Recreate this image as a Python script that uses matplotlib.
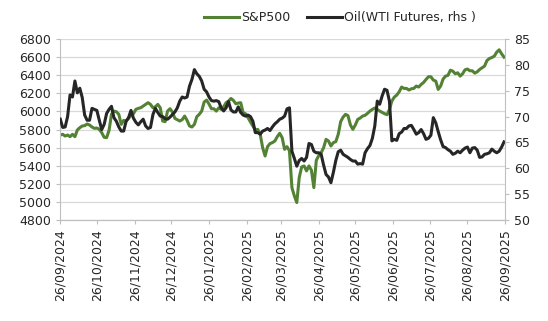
from matplotlib import pyplot as plt
import matplotlib.dates as mdates
import pandas as pd

dates = pd.date_range("2024-09-26", "2025-09-25", freq="2D")

spx = [
    # 26/09/2024 - 07/12/2024
    5739, 5747, 5728, 5739, 5721, 5747, 5721, 5795, 5820, 5839,
    5843, 5861, 5850, 5828, 5813, 5817, 5802, 5765, 5714, 5710,
    5791, 5968, 6004, 5997, 5968, 5857, 5901, 5894, 5923, 5960,
    5975, 6023, 6034, 6041, 6060, 6078, 6097,
    # 09/12/2024 - 20/02/2025
    6078, 6041, 6052, 6078, 6041, 5894, 5887, 6004, 6030, 5993,
    5923, 5909, 5894, 5909, 5949, 5901, 5839, 5828, 5857, 5942,
    5968, 6004, 6104, 6126, 6082, 6030, 6030, 6004, 6041, 6023,
    6052, 6097, 6115, 6144, 6122, 6085, 6093,
    # 22/02/2025 - 04/05/2025
    6097, 5986, 5975, 5931, 5883, 5839, 5795, 5802, 5747, 5599,
    5507, 5610, 5644, 5655, 5673, 5721, 5758, 5710, 5581, 5610,
    5563, 5157, 5065, 4992, 5268, 5386, 5397, 5342, 5397, 5349,
    5157, 5459, 5511, 5544, 5599, 5691, 5673,
    # 06/05/2025 - 17/07/2025
    5618, 5655, 5666, 5747, 5887, 5938, 5968, 5953, 5850, 5802,
    5850, 5912, 5927, 5949, 5957, 5979, 6004, 6023, 6038, 6023,
    6004, 5990, 5975, 5964, 6023, 6115, 6159, 6181, 6218, 6270,
    6255, 6255, 6237, 6251, 6255, 6281, 6270,
    # 19/07/2025 - 25/09/2025
    6299, 6321, 6354, 6384, 6384, 6347, 6336, 6244, 6281, 6358,
    6391, 6399, 6457, 6446, 6417, 6428, 6391, 6417, 6461, 6469,
    6450, 6450, 6424, 6439, 6465, 6483, 6502, 6564, 6586, 6597,
    6612, 6656, 6682, 6638, 6601,
]

oil = [
    # 26/09/2024 - 07/12/2024
    69.5, 67.9, 68.0, 70.0, 74.2, 73.8, 76.9, 74.6, 75.5, 73.7,
    70.3, 69.3, 69.3, 71.6, 71.4, 71.2, 69.3, 67.5, 68.5, 70.6,
    71.4, 72.0, 69.8, 69.1, 68.0, 67.2, 67.2, 69.1, 69.8, 71.2,
    69.7, 68.9, 68.4, 69.0, 69.5, 68.2, 67.7,
    # 09/12/2024 - 20/02/2025
    67.9, 70.4, 71.6, 70.8, 70.1, 70.0, 69.6, 69.5, 69.9, 70.4,
    70.9, 71.7, 73.0, 73.8, 73.6, 73.8, 75.9, 77.2, 79.1, 78.3,
    77.8, 76.9, 75.3, 74.8, 73.8, 73.1, 73.0, 73.1, 72.9, 71.7,
    71.1, 71.7, 72.9, 71.3, 70.9, 70.9, 71.9,
    # 22/02/2025 - 04/05/2025
    70.8, 70.3, 70.1, 70.3, 70.0, 69.1, 66.9, 66.9, 66.6, 67.2,
    67.4, 67.7, 67.3, 68.0, 68.6, 69.0, 69.5, 69.7, 70.1, 71.5,
    71.7, 63.3, 61.9, 60.4, 61.5, 61.9, 61.4, 62.1, 64.8, 64.6,
    63.3, 63.0, 63.0, 62.7, 60.6, 58.8, 58.3,
    # 06/05/2025 - 17/07/2025
    57.2, 59.2, 61.5, 63.2, 63.5, 62.7, 62.4, 62.1, 61.7, 61.4,
    61.4, 60.8, 60.9, 60.8, 63.0, 63.8, 64.4, 65.8, 68.2, 73.0,
    72.4, 74.0, 75.3, 75.1, 73.0, 65.3, 65.6, 65.4, 66.7, 67.0,
    67.7, 67.7, 68.2, 68.3, 67.5, 66.6, 66.9,
    # 19/07/2025 - 25/09/2025
    67.5, 66.7, 65.6, 65.8, 66.4, 69.8, 68.8, 67.1, 65.5, 64.2,
    64.0, 63.6, 63.3, 62.7, 62.9, 63.3, 63.0, 63.5, 63.9, 64.1,
    63.0, 63.9, 64.0, 63.5, 62.1, 62.2, 62.7, 62.8, 63.0, 63.7,
    63.3, 63.0, 63.3, 64.1, 65.1,
]

# month ticks on the 26th
tick_dates = pd.date_range("2024-09-01", "2025-09-01", freq="MS") + pd.Timedelta(days=25)

green = '#548235'
dark = '#262626'
grey = '#bfbfbf'

fig = plt.figure(figsize=(5.48, 3.21), dpi=100)
ax = fig.add_axes([0.110, 0.315, 0.812, 0.563])
ax2 = ax.twinx()

l1, = ax.plot(dates, spx, color=green, lw=2.2, label='S&P500')
l2, = ax2.plot(dates, oil, color=dark, lw=2.2, label='Oil(WTI Futures, rhs )')

ax.set_ylim(4800, 6800)
ax.set_yticks(range(4800, 6801, 200))
ax2.set_ylim(50, 85)
ax2.set_yticks(range(50, 86, 5))
ax.set_xlim(pd.Timestamp("2024-09-26"), pd.Timestamp("2025-09-26"))
ax.set_xticks(tick_dates)
ax.xaxis.set_major_formatter(mdates.DateFormatter('%d/%m/%Y'))
plt.setp(ax.get_xticklabels(), rotation=90)

ax.grid(axis='y', color='#d9d9d9', lw=0.9)
ax.set_axisbelow(True)
for a in (ax, ax2):
    for s in a.spines.values():
        s.set_color(grey)
    a.spines['top'].set_visible(False)
    a.tick_params(colors=grey, labelcolor=dark, labelsize=9, length=3, width=0.8)
ax2.spines['left'].set_visible(False)
ax.spines['right'].set_visible(False)

fig.legend(handles=[l1, l2], loc='upper center', bbox_to_anchor=(0.62, 1.0),
           ncol=2, frameon=False, fontsize=9, handlelength=2.8,
           handletextpad=0.2, columnspacing=1.3, labelcolor=dark)

plt.savefig('out.png', dpi=100)
